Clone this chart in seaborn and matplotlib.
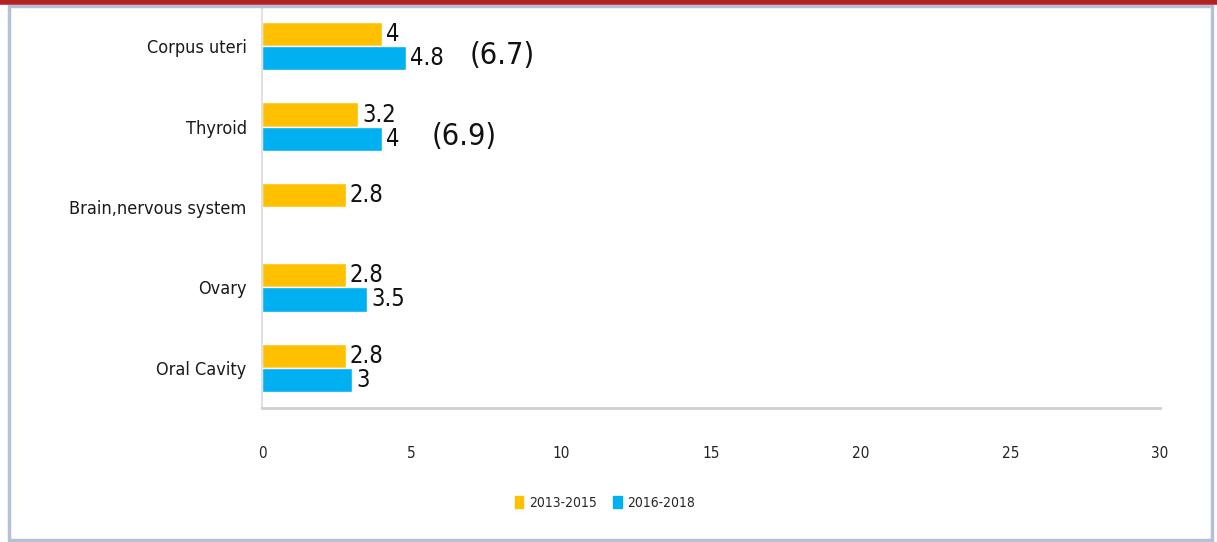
import numpy as np
import pandas as pd
import matplotlib
matplotlib.use("Agg")
import matplotlib.pyplot as plt
import seaborn as sns
from matplotlib.patches import Rectangle
from matplotlib.lines import Line2D

# ---- data ----
categories = ["Corpus uteri", "Thyroid", "Brain,nervous system", "Ovary", "Oral Cavity"]
series_names = ["2013-2015", "2016-2018"]
values_2013_2015 = [4, 3.2, 2.8, 2.8, 2.8]
values_2016_2018 = [4.8, 4, np.nan, 3.5, 3]
bracket_notes = ["(6.7)", "(6.9)", "", "", ""]
x_ticks = [0, 5, 10, 15, 20, 25, 30]

colors = ["#FFC000", "#00B0F0"]

df = pd.DataFrame({
    "category": categories * 2,
    "period": [series_names[0]] * 5 + [series_names[1]] * 5,
    "value": values_2013_2015 + values_2016_2018,
})

sns.set_theme(style="white")
plt.rcParams["font.family"] = ["DejaVu Sans"]
plt.rcParams["font.stretch"] = "condensed"

W, H = 1217, 542
fig = plt.figure(figsize=(W / 100, H / 100), dpi=100)
ax = fig.add_axes([262 / W, 1 - 408 / H, (1160 - 262) / W, (408 - 6) / H])

sns.barplot(data=df.dropna(), y="category", x="value", hue="period",
            order=categories, hue_order=series_names, palette=colors,
            orient="h", width=0.6, dodge=True, saturation=1, ax=ax,
            legend=False)

ax.set_xlim(0, 30)
ax.set_ylim(4.5, -0.5)
ax.set_xticks(x_ticks)
ax.set_xticklabels([str(t) for t in x_ticks], fontsize=11, color="#222222",
                   fontstretch="condensed")
ax.set_ylabel("")
ax.set_xlabel("")
ax.tick_params(axis="y", labelsize=13, colors="#1a1a1a", length=0, pad=11)
ax.tick_params(axis="x", length=5, color="#cccccc", direction="out", pad=22, width=1)
for lbl in ax.get_yticklabels():
    lbl.set_fontstretch("condensed")
    lbl.set_fontweight("medium")

for s in ["top", "right"]:
    ax.spines[s].set_visible(False)
ax.spines["bottom"].set_color("#d0d0d0")
ax.spines["bottom"].set_linewidth(2)
ax.spines["left"].set_color("#dcdcdc")
ax.spines["left"].set_linewidth(1.2)

# value labels
for cont in ax.containers:
    ax.bar_label(cont, fmt="%g", padding=3, fontsize=17, color="#111111",
                 fontstretch="condensed")

# bracketed notes next to the blue bars
offsets = [64, 50]
for i, note in enumerate(bracket_notes):
    if note:
        base = values_2016_2018[i] if not np.isnan(values_2016_2018[i]) else values_2013_2015[i]
        ax.annotate(note, xy=(base, i + 0.12), xytext=(offsets[min(i, 1)], 0),
                    textcoords="offset pixels", fontsize=22, va="center",
                    ha="left", color="#111111", fontstretch="condensed")

# legend
handles = [Rectangle((0, 0), 1, 1, color=c) for c in colors]
fig.legend(handles, series_names, loc="center", bbox_to_anchor=(605 / W, 1 - 503 / H),
           ncol=2, frameon=False, handlelength=0.6, handleheight=1.0,
           columnspacing=1.2, handletextpad=0.4,
           prop={"size": 10, "stretch": "condensed"})

# outer frame
fig.add_artist(Rectangle((9 / W, 2 / H), (1212 - 9) / W, (536 - 2) / H,
                         transform=fig.transFigure, fill=False,
                         edgecolor="#b4c0d6", linewidth=2.5))
fig.add_artist(Line2D([0, 1], [1 - 2 / H, 1 - 2 / H], transform=fig.transFigure,
                      color="#b22222", linewidth=4))

fig.savefig("out.png", dpi=100)
